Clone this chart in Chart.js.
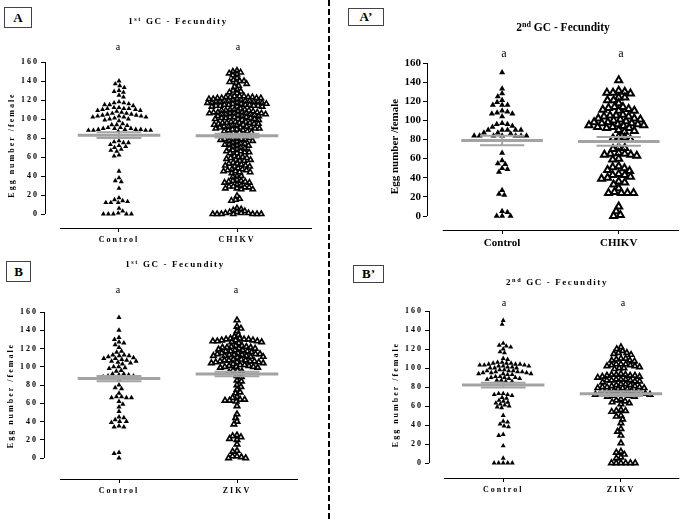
<!DOCTYPE html>
<html lang="en">
<head>
<meta charset="UTF-8">
<title>Fecundity - 1st and 2nd GC</title>
<script src="https://cdn.jsdelivr.net/npm/chart.js@4"></script>
<style>
  body { margin: 0; width: 685px; height: 521px; position: relative; background: #fff; overflow: hidden;
         font-family: "Liberation Serif", "DejaVu Serif", serif; color: #000; }
  canvas.plot { position: absolute; left: 0; top: 0; }
  .txt { position: absolute; transform: translate(-50%, -50%); white-space: nowrap; color: #000;
         -webkit-font-smoothing: antialiased; will-change: transform; }
  .ttl { font-weight: bold; font-size: 9px; letter-spacing: 1.6px; }
  .ttl2 { font-weight: bold; font-size: 11.5px; }
  .ttl sup, .ttl2 sup { font-size: 0.7em; vertical-align: 0.5em; line-height: 0; }
  .sig { font-size: 10px; }
  .sig2 { font-size: 12px; }
  .box { position: absolute; border: 1px solid #444; display: flex; align-items: center; justify-content: center;
         font-weight: bold; font-size: 13px; box-sizing: border-box; }
  .divider { position: absolute; left: 328px; top: 0; width: 2px; height: 521px;
             background: repeating-linear-gradient(to bottom, #000 0 6px, transparent 6px 9px); }
</style>
</head>
<body>
  <!-- panel labels and titles -->
  <div class="box" style="left:4px;top:7px;width:28px;height:21px;">A</div>
  <div class="txt ttl" style="left:178px;top:21px;">1<sup>st</sup> GC - Fecundity</div>
  <div class="txt sig" style="left:118px;top:46px;">a</div>
  <div class="txt sig" style="left:238px;top:46px;">a</div>

  <div class="box" style="left:348px;top:8px;width:36px;height:18px;">A’</div>
  <div class="txt ttl2" style="left:563px;top:27px;">2<sup>nd</sup> GC - Fecundity</div>
  <div class="txt sig2" style="left:504px;top:53px;">a</div>
  <div class="txt sig2" style="left:621px;top:53px;">a</div>

  <div class="box" style="left:6px;top:261px;width:25px;height:21px;">B</div>
  <div class="txt ttl" style="left:175px;top:264px;">1<sup>st</sup> GC - Fecundity</div>
  <div class="txt sig" style="left:118px;top:289px;">a</div>
  <div class="txt sig" style="left:236px;top:289px;">a</div>

  <div class="box" style="left:353px;top:265px;width:31px;height:18px;">B’</div>
  <div class="txt ttl" style="left:557px;top:282px;">2<sup>nd</sup> GC - Fecundity</div>
  <div class="txt sig" style="left:504px;top:302px;">a</div>
  <div class="txt sig" style="left:623px;top:302px;">a</div>

  <div class="divider"></div>

  <canvas class="plot" id="chartA" width="685" height="521"></canvas>
  <canvas class="plot" id="chartA2" width="685" height="521"></canvas>
  <canvas class="plot" id="chartB" width="685" height="521"></canvas>
  <canvas class="plot" id="chartB2" width="685" height="521"></canvas>

<script>
// categories and tick values
const groupsChikv = ['Control', 'CHIKV'];
const groupsZikv = ['Control', 'ZIKV'];
const yTicks = [0, 20, 40, 60, 80, 100, 120, 140, 160];
const yLabel = 'Egg number /female';

// egg counts per female
const eggsA1Control = [140,137,135,133,130,129,128,125,123,
  118,117,117,116,115,115,114,
  112,112,111,111,111,110,110,109,109,108,
  107,106,106,105,105,104,104,103,103,103,102,102,102,101,
  100,100,99,98,
  95,94,94,93,
  91,91,90,90,90,89,89,89,89,88,88,88,88,87,
  77,76,75,75,73,72,71,70,68,67,66,62,61,
  45,38,35,34,27,
  17,15,14,13,12,12,12,
  6,3,1,0,0,0,0,0];

const eggsA1Chikv = [151,150,149,148,147,146,
  143,141,140,140,139,138,137,135,134,
  131,130,129,128,127,
  124,124,124,123,123,123,123,122,122,122,122,121,121,121,
  120,120,119,119,119,119,118,118,118,118,117,117,117,117,
  116,116,116,115,115,115,115,114,114,114,114,113,113,113,
  111,110,110,110,109,109,109,108,108,
  107,107,107,107,106,106,106,106,106,105,105,105,105,104,104,
  103,103,103,102,102,102,101,101,101,100,100,100,99,99,
  97,97,97,96,96,96,96,95,95,95,94,94,
  93,93,92,92,92,91,91,91,90,90,90,
  89,89,88,88,87,87,86,86,
  84,83,83,82,82,
  80,80,79,79,79,78,78,77,77,76,
  75,74,74,73,73,72,72,71,
  70,69,69,68,67,66,66,65,65,64,64,
  61,60,60,59,59,58,57,57,56,56,
  54,53,53,52,51,51,50,50,
  48,47,47,46,46,45,45,44,44,43,
  40,40,39,
  36,35,35,34,34,33,33,
  31,30,29,29,28,28,27,27,26,26,
  19,16,15,14,
  6,5,4,3,2,2,1,1,1,0,0,0,0,0,0,0];

const eggsA2Control = [150,133,128,125,121,119,116,116,116,110,109,108,107,107,104,
  97,96,96,94,93,90,90,90,90,90,87,87,86,84,84,84,84,84,84,84,
  66,58,55,54,50,49,46,27,23,22,5,4,0,0,0];

const eggsA2Chikv = [142,
  131,130,129,129,128,124,124,121,121,118,
  114,114,113,112,111,110,110,
  106,105,105,104,104,
  102,102,101,101,100,
  99,98,98,97,97,
  96,96,95,95,94,
  93,93,92,92,90,89,88,
  83,82,81,80,
  72,71,70,
  66,65,65,64,64,63,
  60,59,
  52,51,50,48,47,
  44,43,43,41,40,39,36,35,33,29,
  25,24,24,24,24,
  10,5,1,0];

const eggsB1Control = [154,140,132,130,127,126,124,121,117,116,
  113,113,112,112,111,110,109,109,108,107,106,106,105,104,103,100,100,99,98,96,95,
  92,92,91,91,90,90,89,88,
  85,80,77,76,71,
  67,67,66,66,66,62,59,56,51,
  45,44,42,40,40,39,35,34,34,
  6,5,0];

const eggsB1Zikv = [151,144,142,139,135,133,
  131,131,130,130,130,129,129,129,128,128,128,127,127,126,
  123,123,122,122,121,121,121,120,120,119,
  118,118,117,117,117,116,
  115,115,114,114,114,113,113,113,112,112,112,111,111,110,
  108,108,107,107,107,106,106,106,105,105,105,104,104,103,
  102,102,101,101,100,100,100,99,99,
  96,96,95,94,90,89,
  85,84,80,78,75,72,71,67,66,
  64,64,63,63,62,
  57,48,44,40,37,
  25,24,23,21,20,15,
  8,7,2,2,1,0,0];

const eggsB2Control = [150,146,
  126,124,123,122,120,117,116,
  110,109,106,106,105,
  105,105,104,104,104,103,103,103,102,102,102,101,101,100,100,100,
  98,98,97,97,97,96,96,96,95,95,95,94,94,94,93,93,
  91,91,90,90,90,89,89,
  88,87,87,86,86,
  73,73,72,72,71,69,68,66,65,64,63,62,61,60,59,58,
  50,44,43,41,39,38,30,29,18,5,0,0,0,0,0];

const eggsB2Zikv = [122,120,118,116,116,115,114,
  110,110,109,108,108,107,
  104,104,104,103,103,102,102,101,100,100,99,
  94,93,93,93,92,92,92,91,91,90,
  88,88,88,87,87,87,86,86,85,
  83,83,82,82,81,81,80,80,80,79,79,79,78,78,
  76,76,75,75,74,74,74,73,73,73,72,72,72,71,71,70,70,
  67,66,65,64,63,62,
  56,55,55,54,50,49,46,42,36,33,29,21,
  12,11,9,6,5,
  0,0,0,0,0,0];

// mean and SEM per group
const meanA1 = [83, 82.5], semA1 = [3, 2];
const meanA2 = [79, 78], semA2 = [5, 4.5];
const meanB1 = [87, 92], semB1 = [3, 2.5];
const meanB2 = [82, 73], semB2 = [2.5, 2.5];

// simple beeswarm: push each point sideways until it no longer overlaps (pixels, elliptic footprint)
function swarm(vals, ppuY, d) {
  const h = d * 0.85;
  const placed = [];
  const hits = (c, py) => placed.some(p => ((p.x - c) / d) ** 2 + ((p.y - py) / h) ** 2 < 0.999);
  return vals.map((v, k) => {
    const py = v * ppuY;
    const cands = [0];
    placed.forEach(p => {
      const dy = Math.abs(p.y - py);
      if (dy < h) {
        const dx = d * Math.sqrt(1 - (dy / h) ** 2);
        cands.push(p.x + dx, p.x - dx);
      }
    });
    cands.sort((a, b) => Math.abs(a) - Math.abs(b) || (k % 2 ? a - b : b - a));
    const best = cands.find(c => !hits(c, py)) ?? 0;
    placed.push({ x: best, y: py });
    return best;
  });
}

const axisLines = {
  id: 'axisLines',
  beforeDraw(chart, args, opts) { chart.ctx.letterSpacing = opts.spacing; },
  afterDraw(chart, args, opts) {
    const { ctx, chartArea, scales: { x, y } } = chart;
    ctx.save();
    ctx.strokeStyle = '#000';
    ctx.lineWidth = 1;
    ctx.beginPath();
    const ax = Math.round(chartArea.left) + 0.5;
    ctx.moveTo(ax, y.getPixelForValue(0));
    ctx.lineTo(ax, y.getPixelForValue(160));
    const by = Math.round(chartArea.bottom) + 0.5;
    ctx.moveTo(x.getPixelForValue(opts.from), by);
    ctx.lineTo(chartArea.right, by);
    ctx.stroke();
    ctx.restore();
  }
};

function grayLine(pts, w) {
  return { data: pts, showLine: true, borderColor: '#a3a3a3', borderWidth: w, pointRadius: 0, order: 0 };
}

function drawPanel(id, cats, series, means, sems, g, st) {
  const ppuY = (g.zero - g.top) / 160;
  const ppuX = g.c2 - g.c1;
  const yMin = -(g.base - g.zero) / ppuY;
  const xMin = 1 - (g.c1 - g.axisX) / ppuX;
  const xMax = 2 + (g.right - g.c2) / ppuX;
  const lineFrom = 1 - (g.c1 - g.lineL) / ppuX;

  const datasets = [];
  means.forEach((m, i) => {
    const c = i + 1, s = sems[i];
    datasets.push(grayLine([{ x: c - 0.35, y: m }, { x: c + 0.35, y: m }], 3));
    datasets.push(grayLine([{ x: c - 0.19, y: m + s }, { x: c + 0.19, y: m + s }], 2));
    datasets.push(grayLine([{ x: c - 0.19, y: m - s }, { x: c + 0.19, y: m - s }], 2));
    datasets.push(grayLine([{ x: c, y: m - s }, { x: c, y: m + s }], 2));
  });
  series.forEach((vals, i) => {
    const offs = swarm(vals, ppuY, st.gap[i]);
    datasets.push({
      data: vals.map((v, k) => ({ x: i + 1 + offs[k] / ppuX, y: v })),
      pointStyle: 'triangle',
      pointRadius: st.size[i],
      backgroundColor: i ? '#fff' : '#000',
      borderColor: '#000',
      borderWidth: i ? st.bw : 0,
      order: 1
    });
  });

  const tickFont = { family: '"Liberation Serif", serif', size: st.font, weight: 'bold' };
  new Chart(document.getElementById(id), {
    type: 'scatter',
    data: { datasets },
    options: {
      responsive: false,
      animation: false,
      events: [],
      layout: { padding: { left: g.axisX - 40, right: 685 - g.right, top: g.top, bottom: 521 - g.base - 25 } },
      plugins: {
        legend: { display: false },
        tooltip: { enabled: false },
        axisLines: { from: lineFrom, spacing: st.spacing }
      },
      scales: {
        x: {
          type: 'linear', min: xMin, max: xMax,
          afterBuildTicks: s => { s.ticks = cats.map((c, i) => ({ value: i + 1 })); },
          afterFit: s => { s.height = 25; },
          ticks: { callback: v => cats[v - 1], color: '#000', font: tickFont, padding: 3, autoSkip: false, maxRotation: 0 },
          grid: { drawOnChartArea: false, drawTicks: true, tickLength: 4, color: '#000' },
          border: { display: false }
        },
        y: {
          min: yMin, max: 160,
          afterBuildTicks: s => { s.ticks = yTicks.map(v => ({ value: v })); },
          afterFit: s => { s.width = 40; },
          ticks: { color: '#000', font: tickFont, padding: 2 },
          grid: { drawOnChartArea: false, drawTicks: true, tickLength: 4, color: '#000' },
          border: { display: false },
          title: { display: true, text: yLabel, color: '#000', font: tickFont, padding: { top: 2, bottom: 0 } }
        }
      }
    },
    plugins: [axisLines]
  });
}

drawPanel('chartA', groupsChikv, [eggsA1Control, eggsA1Chikv], meanA1, semA1,
  { axisX: 45, top: 62, zero: 214, base: 228, lineL: 60, right: 312, c1: 119, c2: 237 },
  { font: 8, spacing: '2px', size: [2.9, 3], bw: 1.6, gap: [5, 4.3] });

drawPanel('chartA2', groupsChikv, [eggsA2Control, eggsA2Chikv], meanA2, semA2,
  { axisX: 427, top: 63, zero: 216, base: 230, lineL: 443, right: 682, c1: 503, c2: 621 },
  { font: 11, spacing: '0px', size: [3.5, 4], bw: 2, gap: [5.5, 6.2] });

drawPanel('chartB', groupsZikv, [eggsB1Control, eggsB1Zikv], meanB1, semB1,
  { axisX: 44, top: 312, zero: 458, base: 479, lineL: 60, right: 298, c1: 119, c2: 237 },
  { font: 8, spacing: '2px', size: [3, 3.1], bw: 1.7, gap: [5, 4.5] });

drawPanel('chartB2', groupsZikv, [eggsB2Control, eggsB2Zikv], meanB2, semB2,
  { axisX: 429, top: 311, zero: 463, base: 478, lineL: 444, right: 682, c1: 504, c2: 623 },
  { font: 8, spacing: '2px', size: [2.9, 3.1], bw: 1.7, gap: [4.6, 4.8] });
</script>
</body>
</html>
